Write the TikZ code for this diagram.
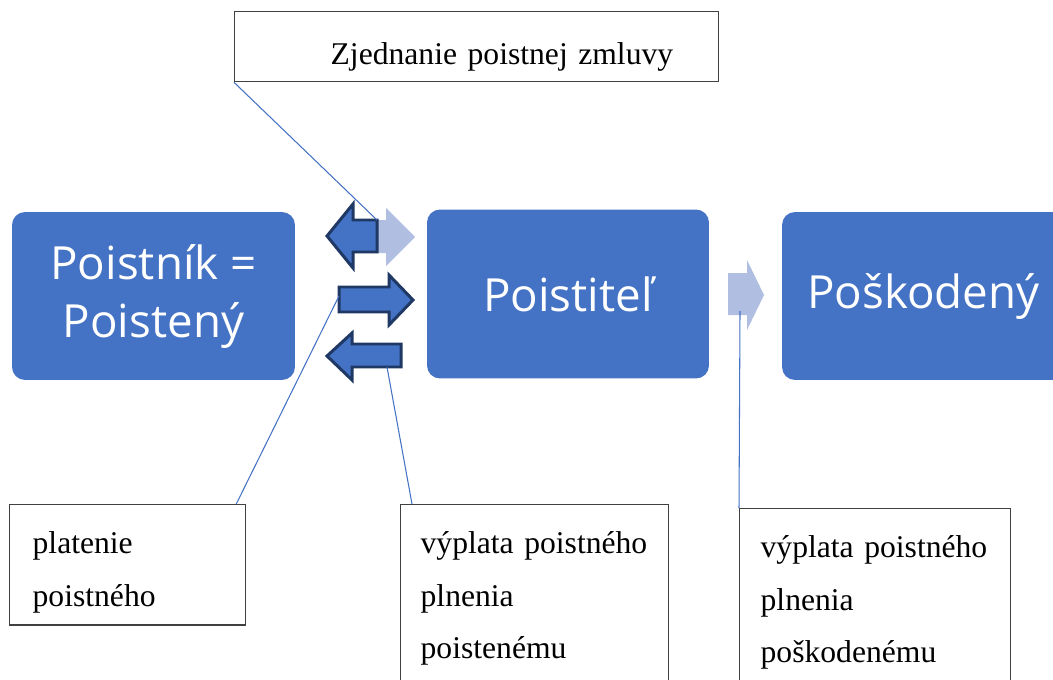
\documentclass[tikz,border=0pt]{standalone}
\usepackage{fontspec}
\setmainfont{Liberation Serif}
\newfontfamily\boxfont{Open Sans}
\definecolor{officeblue}{RGB}{68,114,196}
\definecolor{darknavy}{RGB}{31,56,100}
\definecolor{paleblue}{RGB}{176,190,226}
\definecolor{boxline}{RGB}{64,64,64}
\tikzset{
  bluebox/.style={fill=officeblue, rounded corners=0.26cm, text=white, align=center,
    font=\boxfont\fontsize{26}{33}\selectfont, minimum width=5.66cm, minimum height=3.36cm},
  textbox/.style={draw=boxline, line width=0.75pt, fill=white, anchor=north west,
    align=left, inner ysep=0.24cm, font=\fontsize{18}{30}\selectfont},
  darkarrow/.style={fill=officeblue, draw=darknavy, line width=1.7pt, line join=miter},
  palearrow/.style={fill=paleblue},
  callout/.style={draw=officeblue, line width=0.6pt}
}
\begin{document}
\begin{tikzpicture}[x=0.02cm,y=-0.02cm]
\useasboundingbox (0,0) rectangle (1053,679);
\clip (0,0) rectangle (1053,679);
% draw blue boxes
\node[bluebox] (poistnik) at (153.5,296) {Poistník =\\Poistený};
\node[bluebox, minimum width=5.64cm, minimum height=3.38cm] (poistitel) at (568,294) {Poistiteľ};
\node[bluebox] (poskodeny) at (923.5,296) {Poškodený};
% draw arrows
\fill[palearrow] (355,220) -- (386,220) -- (386,208) -- (415,237) -- (386,266) -- (386,253) -- (355,253) -- cycle;
\draw[darkarrow] (327,236) -- (353,204) -- (353,220) -- (377,220) coordinate (zmluvaend)
  -- (377,252) -- (353,252) -- (353,268) -- cycle;
\draw[darkarrow] (339,287) -- (389,287) -- (389,275) -- (413,300) -- (389,325) -- (389,312)
  -- (339,312) -- cycle;
\draw[darkarrow] (327,356) -- (352,333) -- (352,344) -- (401,344) -- (401,367) -- (352,367)
  -- (352,380) -- cycle;
\fill[palearrow] (728,273) -- (747,273) -- (747,260) -- (764,295) -- (747,330) -- (747,315)
  -- (728,315) -- cycle;
\coordinate (platenieend) at (339,296);
\coordinate (vyplataend) at (387,367);
\coordinate (poskodenyend) at (740,311);
% draw text boxes
\node[textbox, inner xsep=0.2cm, inner ysep=0.1cm, text width=9.28cm,
  text height=0.84cm, text depth=0.36cm] (zmluva) at (234,11)
  {\hspace*{1.72cm}\raisebox{-0.12cm}{Zjednanie poistnej zmluvy}};
\node[textbox, inner xsep=0.46cm, text width=3.8cm] (platenie) at (9,504)
  {\strut platenie\\poistného};
\node[textbox, inner xsep=0.4cm, text width=4.56cm] (vyplata) at (400,504)
  {\strut výplata poistného\\plnenia\\poistenému\strut};
\node[textbox, inner xsep=0.42cm, text width=4.58cm] (vyplatapsk) at (739,508)
  {\strut výplata poistného\\plnenia\\poškodenému\strut};
% draw callout lines
\draw[callout] (zmluva.south west) -- (zmluvaend);
\draw[callout] ([xshift=-0.2cm]platenie.north east) -- (platenieend);
\draw[callout] ([xshift=0.24cm]vyplata.north west) -- (vyplataend);
\draw[callout] (vyplatapsk.north west) -- (poskodenyend);
\end{tikzpicture}
\end{document}
